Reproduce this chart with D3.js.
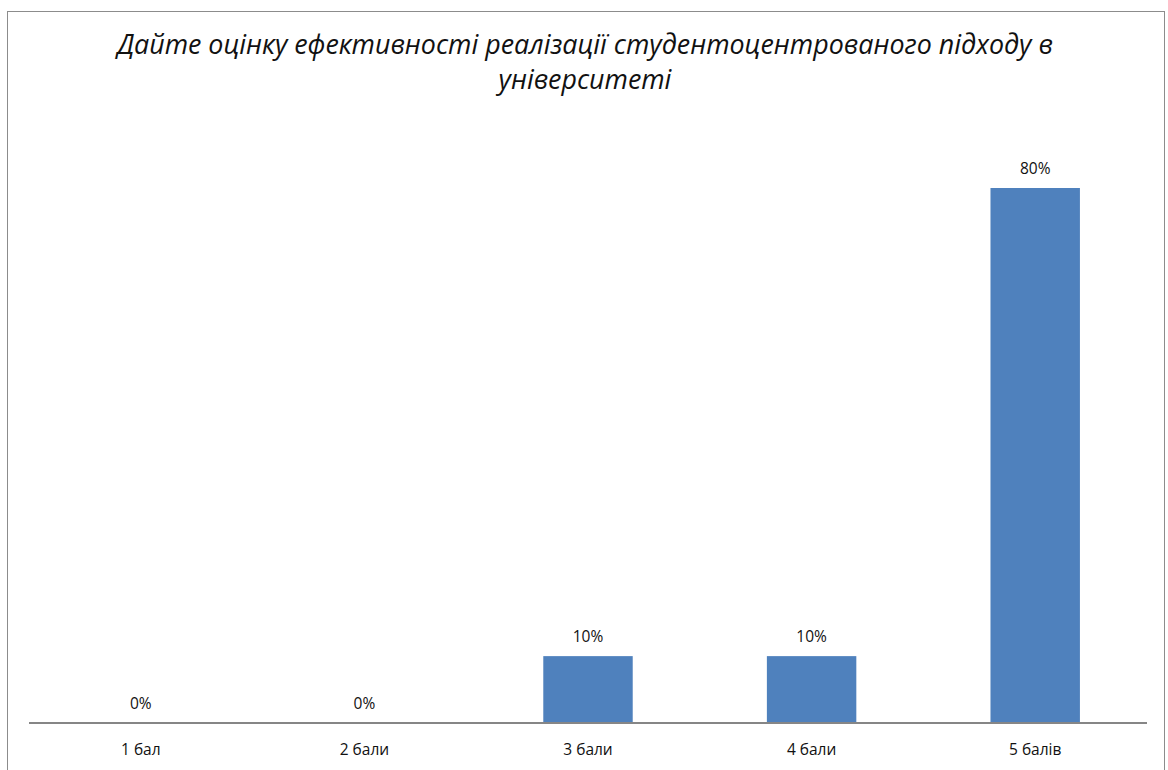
<!DOCTYPE html>
<html><head><meta charset="utf-8">
<script src="https://cdn.jsdelivr.net/npm/d3@7"></script>
<style>html,body{margin:0;padding:0;background:#fff;}svg{display:block;}</style>
</head><body>
<svg id="c" width="1168" height="770"></svg>
<script>
const categories = ["1 бал", "2 бали", "3 бали", "4 бали", "5 балів"];
const values = [0, 0, 10, 10, 80];
const titleLines = ["Дайте оцінку ефективності реалізації студентоцентрованого підходу в", "університеті"];

const svg = d3.select("#c");
const font = "'Open Sans', sans-serif";

svg.append("rect").attr("x", 7.5).attr("y", 11.5).attr("width", 1157).attr("height", 800)
  .attr("fill", "#fff").attr("stroke", "#8c8c8c").attr("stroke-width", 1);

const x = d3.scaleBand().domain(categories).range([29, 1147]).paddingInner(0.6).paddingOuter(0.3);
const y = d3.scaleLinear().domain([0, 80]).range([723, 188]);

svg.selectAll("rect.bar").data(values).join("rect").attr("class", "bar")
  .attr("x", (d, i) => x(categories[i]))
  .attr("width", x.bandwidth())
  .attr("y", d => y(d))
  .attr("height", d => y(0) - y(d))
  .attr("fill", "#4f81bd");

const axis = d3.axisBottom(x).tickSize(0).tickPadding(0);
const ag = svg.append("g").attr("transform", `translate(0,${y(0)})`).call(axis);
ag.select(".domain").attr("stroke", "#868686").attr("stroke-width", 2).attr("d", "M29,0H1147");
ag.selectAll("text").attr("font-family", font).attr("font-size", 15.5).attr("fill", "#111")
  .attr("dy", null).attr("y", 32);

svg.selectAll("text.lbl").data(values).join("text").attr("class", "lbl")
  .attr("x", (d, i) => x(categories[i]) + x.bandwidth() / 2)
  .attr("y", d => y(d) - 14)
  .attr("text-anchor", "middle")
  .attr("font-family", font).attr("font-size", 15.5).attr("fill", "#111")
  .text(d => d + "%");

const tt = svg.selectAll("text.title").data(titleLines).join("text").attr("class", "title")
  .attr("x", 585).attr("y", (d, i) => 54 + i * 35)
  .attr("text-anchor", "middle")
  .attr("font-family", font).attr("font-style", "italic").attr("font-size", 22).attr("fill", "#111")
  .text(d => d);
const w = tt.node().getComputedTextLength();
tt.attr("font-size", 22 * 936 / w);
</script>
</body></html>
